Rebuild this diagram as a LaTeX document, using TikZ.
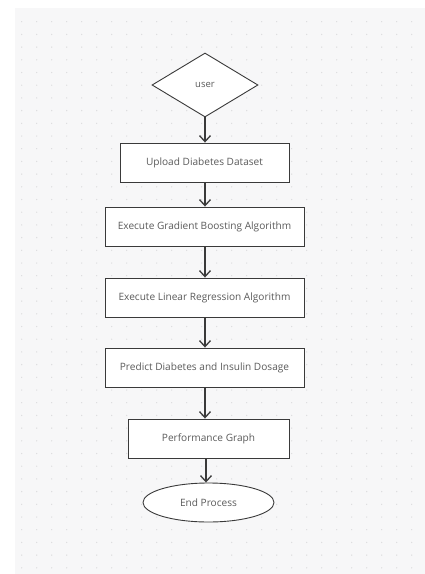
\documentclass[tikz,border=0pt]{standalone}
\usepackage{fontspec}
\setmainfont{Open Sans}
\usetikzlibrary{arrows.meta,shapes.geometric}
\definecolor{bggray}{HTML}{F7F7F8}
\definecolor{dotgray}{HTML}{DCDCDE}
\definecolor{linegray}{HTML}{3A3A3A}
\definecolor{textgray}{HTML}{5A5A5A}
\tikzset{
  procbox/.style={draw=linegray, line width=0.9pt, fill=white, minimum height=39pt, inner sep=0pt, font=\fontsize{10.1}{12}\selectfont, text=textgray},
  decision/.style={diamond, aspect=1.65, draw=linegray, line width=0.9pt, fill=white, minimum width=106pt, minimum height=64pt, inner sep=0pt, font=\fontsize{9.5}{11}\selectfont, text=textgray},
  terminal/.style={ellipse, draw=linegray, line width=0.9pt, fill=white, minimum width=131pt, minimum height=39pt, inner sep=0pt, font=\fontsize{10.1}{12}\selectfont, text=textgray},
  flow/.style={draw=linegray, line width=1.3pt, -{Straight Barb[length=6pt,width=11pt,line width=1.3pt]}}
}
\begin{document}
\begin{tikzpicture}[x=1pt,y=-1pt]
\useasboundingbox (0,0) rectangle (425,574);
\fill[white] (0,0) rectangle (425,574);
\fill[bggray] (15,8) rectangle (425,574);
\foreach \i in {0,...,27} {
  \foreach \j in {0,...,43} {
    \fill[dotgray] ({21.7+15*\i},{21.7+12.7*\j}) circle (0.7);
  }
}
\node[decision] (user) at (205,85) {user};
\node[procbox, minimum width=169pt] (upload) at (204.5,162.5) {Upload Diabetes Dataset};
\node[procbox, minimum width=199pt] (gb) at (204.5,226.5) {Execute Gradient Boosting Algorithm};
\node[procbox, minimum width=199pt] (lr) at (204.5,297.5) {Execute Linear Regression Algorithm};
\node[procbox, minimum width=199pt] (pred) at (204.5,367.5) {Predict Diabetes and Insulin Dosage};
\node[procbox, minimum width=161pt] (perf) at (208.5,438.5) {Performance Graph};
\node[terminal] (end) at (208.5,502.5) {End Process};
\draw[flow] (user.south) -- (user.south |- upload.north);
\draw[flow] (upload.south -| 205,0) -- (205,0 |- gb.north);
\draw[flow] (gb.south -| 205,0) -- (205,0 |- lr.north);
\draw[flow] (lr.south -| 205,0) -- (205,0 |- pred.north);
\draw[flow] (pred.south -| 205,0) -- (205,0 |- perf.north);
\draw[flow] (perf.south -| 206,0) -- (206,0 |- end.north);
\end{tikzpicture}
\end{document}
